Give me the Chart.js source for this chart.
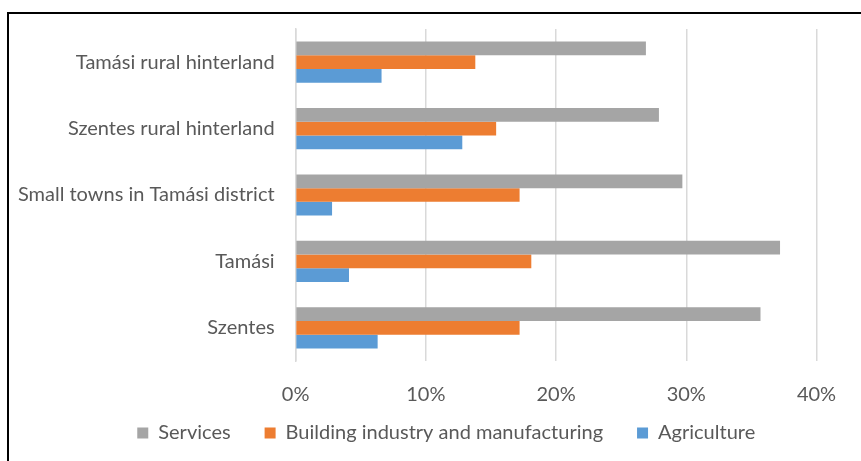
<!DOCTYPE html>
<html>
<head>
<meta charset="utf-8">
<script src="https://cdn.jsdelivr.net/npm/chart.js@4"></script>
<style>
  html, body { margin: 0; padding: 0; background: #fff; overflow: hidden; }
  .frame { position: absolute; left: 7px; top: 12px; width: 900px; height: 500px; border: 2px solid #000; box-sizing: border-box; }
  .wrap { position: absolute; left: 0; top: 0; width: 861px; height: 461px; }
</style>
</head>
<body>
<div class="frame"></div>
<div class="wrap"><canvas id="chart"></canvas></div>
<script>
const categories = ['Tamási rural hinterland', 'Szentes rural hinterland', 'Small towns in Tamási district', 'Tamási', 'Szentes'];
const services = [26.9, 27.9, 29.7, 37.2, 35.7];
const building = [13.8, 15.4, 17.2, 18.1, 17.2];
const agriculture = [6.6, 12.8, 2.8, 4.1, 6.3];
const xTicks = [0, 10, 20, 30, 40];

const font = "Lato, 'Open Sans', sans-serif";
const grey = '#595959';

// legend sits a bit right of centre in the original, and x tick labels need room below the axis box
const layoutTweak = {
  id: 'layoutTweak',
  afterLayout(chart) {
    chart.legend.left += 38;
    chart.legend.right += 38;
    chart.scales.x.bottom += 30;
  }
};

new Chart(document.getElementById('chart'), {
  type: 'bar',
  data: {
    labels: categories,
    datasets: [
      { label: 'Services', data: services, backgroundColor: '#A5A5A5' },
      { label: 'Building industry and manufacturing', data: building, backgroundColor: '#ED7D31' },
      { label: 'Agriculture', data: agriculture, backgroundColor: '#5B9BD5' }
    ]
  },
  options: {
    indexAxis: 'y',
    responsive: true,
    maintainAspectRatio: false,
    animation: false,
    layout: { padding: { top: 29, right: 44.5, bottom: 8, left: 0 } },
    datasets: { bar: { categoryPercentage: 0.62, barPercentage: 1.0, borderWidth: 0 } },
    scales: {
      x: {
        min: 0, max: 40,
        afterBuildTicks: s => { s.ticks = xTicks.map(v => ({ value: v })); },
        grid: { color: '#d9d9d9', lineWidth: 1.5, drawTicks: false },
        border: { display: false },
        ticks: { color: grey, padding: 22, font: { family: font, size: 20 }, callback: v => v + '%' },
        afterFit: s => { s.height = 28; }
      },
      y: {
        grid: { display: false },
        border: { display: true, color: '#d9d9d9', width: 1.5 },
        ticks: { color: grey, padding: 13, font: { family: font, size: 20 } },
        afterFit: s => { s.width = 295.6; }
      }
    },
    plugins: {
      legend: {
        position: 'bottom',
        labels: { color: grey, boxWidth: 11, boxHeight: 11, padding: 34, font: { family: font, size: 20 } }
      },
      tooltip: { enabled: false }
    }
  },
  plugins: [layoutTweak]
});
</script>
</body>
</html>
